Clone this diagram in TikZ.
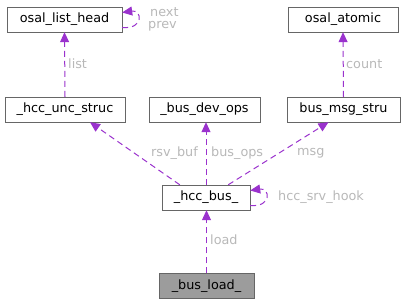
\documentclass[tikz,border=0pt]{standalone}
\usepackage{fontspec}
\setmainfont{DejaVu Sans}
\usetikzlibrary{arrows.meta,positioning,calc}
\definecolor{edgepurple}{HTML}{9A32CD}
\definecolor{labelgrey}{HTML}{B8B8B8}
\definecolor{boxgrey}{HTML}{666666}

\begin{document}
\begin{tikzpicture}[x=1pt,y=-1pt,
  cls/.style={draw=boxgrey,fill=white,minimum height=25pt,inner xsep=0pt,font=\fontsize{12.8}{14}\selectfont},
  edge/.style={draw=edgepurple,dash pattern=on 6pt off 4pt,line width=1pt,-{Triangle[length=10pt,width=9pt]}},
  lbl/.style={text=labelgrey,font=\fontsize{12.8}{14}\selectfont,inner sep=1pt}]
\useasboundingbox (0,0) rectangle (405,304);
\node[cls,minimum width=115pt] (olh) at (64.5,19.5) {osal\_list\_head};
\node[cls,minimum width=110pt] (oat) at (343,19.5) {osal\_atomic};
\node[cls,minimum width=120pt] (unc) at (65,109.5) {\_hcc\_unc\_struc};
\node[cls,minimum width=111pt] (ops) at (204.5,109.5) {\_bus\_dev\_ops};
\node[cls,minimum width=113pt] (msg) at (343.5,109.5) {bus\_msg\_stru};
\node[cls,minimum width=88pt] (bus) at (206,197.5) {\_hcc\_bus\_};
\node[cls,minimum width=95pt,fill=boxgrey!65] (load) at (206.5,286) {\_bus\_load\_};
% self references
\coordinate (olh-out) at ($(olh.east)+(0,8)$);
\coordinate (olh-in) at ($(olh.east)+(0,-7)$);
\draw[edge] (olh-out) .. controls +(22,2) and +(20,-3) .. (olh-in);
\coordinate (bus-out) at ($(bus.east)+(0,8)$);
\coordinate (bus-in) at ($(bus.east)+(0,-7)$);
\draw[edge] (bus-out) .. controls +(22,2) and +(20,-3) .. (bus-in);
% members
\draw[edge] (unc.north) -- (olh.south);
\draw[edge] (msg.north) -- (oat.south);
\draw[edge] (bus.north west) ++(18,0) coordinate (bus-a) -- ($(unc.south)+(25,0)$);
\draw[edge] (bus.north) -- (bus.north |- ops.south);
\draw[edge] (bus.north east) ++(-22,0) coordinate (bus-b) -- ($(msg.south)+(-15,0)$);
\draw[edge] (load.north) -- (load.north |- bus.south);
% labels
\node[lbl,anchor=west] (l-next) at (149,12) {next};
\node[lbl,anchor=west] (l-prev) at (147,26) {prev};
\node[lbl,anchor=west] (l-list) at (67,64) {list};
\node[lbl,anchor=west] (l-count) at (345,64) {count};
\node[lbl,anchor=west] (l-rsv) at (150,153) {rsv\_buf};
\node[lbl,anchor=west] (l-ops) at (210,153) {bus\_ops};
\node[lbl,anchor=west] (l-msg) at (296,153) {msg};
\node[lbl,anchor=west] (l-hook) at (277,197) {hcc\_srv\_hook};
\node[lbl,anchor=west] (l-load) at (209,240) {load};
\end{tikzpicture}
\end{document}
